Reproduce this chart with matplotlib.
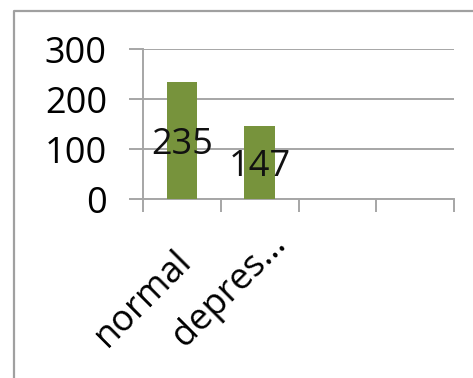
import matplotlib
matplotlib.use("Agg")
import matplotlib.pyplot as plt
from matplotlib.lines import Line2D
from matplotlib.transforms import ScaledTranslation

# Datos
categorias = ["normal", "depres…"]
valores = [235, 147]
n_slots = 4            # el eje tiene espacio para 4 categorias
y_ticks = [0, 100, 200, 300]

verde = "#77933C"
gris = "#a6a6a6"
fuente = "Open Sans"
tam = 26

plt.rcParams["font.family"] = [fuente, "DejaVu Sans"]

fig = plt.figure(figsize=(4.73, 3.78), dpi=100)
ax = fig.add_axes([143 / 473, 1 - 199 / 378, (454 - 143) / 473, (199 - 49) / 378])

posiciones = [i + 0.5 for i in range(len(valores))]
ax.bar(posiciones, valores, width=0.39, color=verde, zorder=3)

# Etiquetas de datos en el centro de cada barra
for x, v in zip(posiciones, valores):
    ax.text(x, v / 2, str(v), ha="center", va="center_baseline", fontsize=tam,
            color="#111111", zorder=4)

ax.set_xlim(0, n_slots)
ax.set_ylim(0, 300)
ax.set_yticks(y_ticks)
ax.set_yticklabels([str(t) for t in y_ticks], fontsize=tam)

# Marcas de categoria en los limites, etiquetas giradas bajo cada barra
ax.set_xticks(range(n_slots + 1), minor=True)
ax.set_xticks(posiciones)
ax.set_xticklabels(categorias, rotation=45, ha="left", va="baseline",
                   rotation_mode="anchor", fontsize=tam)
ax.tick_params(axis="x", which="major", length=0, pad=0)
ax.tick_params(axis="x", which="minor", length=9, width=1.4, color=gris)
ax.tick_params(axis="y", length=10, width=1.4, color=gris, pad=16)

desplazamiento = ScaledTranslation(-0.75, -1.49, fig.dpi_scale_trans)
for etiqueta in ax.get_xticklabels():
    etiqueta.set_transform(etiqueta.get_transform() + desplazamiento)

ax.grid(axis="y", color=gris, linewidth=1.4, zorder=0)
for lado in ["top", "right"]:
    ax.spines[lado].set_visible(False)
for lado in ["left", "bottom"]:
    ax.spines[lado].set_color(gris)
    ax.spines[lado].set_linewidth(1.4)

# Borde del grafico
fig.add_artist(Line2D([14 / 473, 14 / 473, 1.01], [-0.01, 1 - 11 / 378, 1 - 11 / 378],
                      transform=fig.transFigure, color="#a0a0a0", linewidth=1.6))

fig.savefig("out.png", dpi=100)
